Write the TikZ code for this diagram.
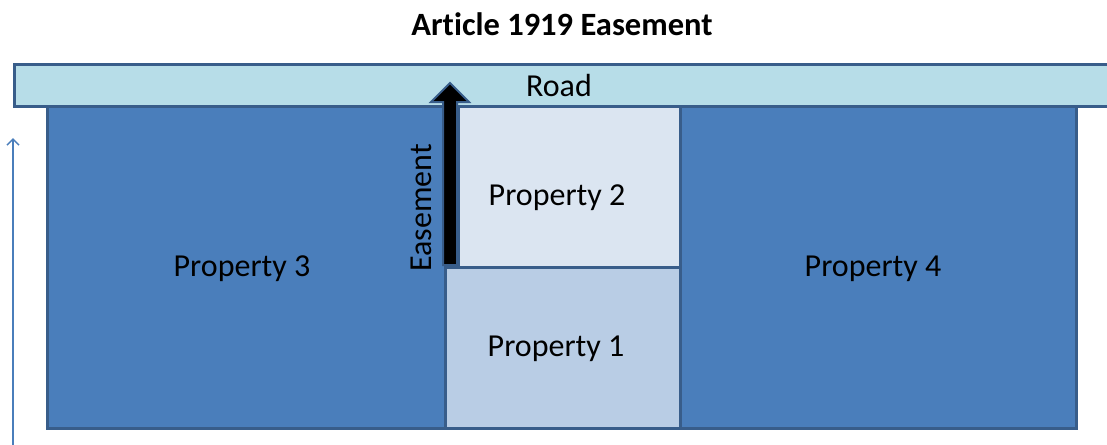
\documentclass[tikz,border=0pt]{standalone}
\usepackage{fontspec}
\setmainfont[Ligatures=CommonOff]{Carlito}
\usetikzlibrary{arrows.meta}
\definecolor{edge}{HTML}{385D8A}
\definecolor{roadfill}{HTML}{B7DDE8}
\definecolor{lotdark}{HTML}{4A7EBB}
\definecolor{lotpale}{HTML}{DBE5F1}
\definecolor{lotmid}{HTML}{B9CDE5}
\begin{document}
\begin{tikzpicture}[x=1pt,y=-1pt,
  lot/.style={draw=edge, line width=3pt, rectangle, inner sep=0pt, outer sep=0pt,
    font=\fontsize{32}{36}\selectfont},
  label/.style={font=\fontsize{32}{36}\selectfont, inner sep=0pt}]
\useasboundingbox (0,0) rectangle (1107,444);
% title
\node[font=\bfseries\fontsize{32.5}{36}\selectfont] (title) at (562,24) {Article 1919 Easement};
% road along the top
\node[lot, fill=roadfill, minimum width=1110, minimum height=42, anchor=north west] (road) at (14,64) {};
\node[label] (roadtxt) at (559,86) {Road};
% lots
\node[lot, fill=lotdark, minimum width=398, minimum height=322, anchor=north west] (p3) at (47,106) {};
\node[label] (p3txt) at (242,269) {Property 3};
\node[lot, fill=lotdark, minimum width=396, minimum height=322, anchor=north west] (p4) at (680,106) {};
\node[label] (p4txt) at (873,269) {Property 4};
\node[lot, fill=lotmid, minimum width=235, minimum height=161, anchor=north west] (p1) at (445,267) {};
\node[label] (p1txt) at (556,349) {Property 1};
\node[lot, fill=lotpale, minimum width=222, minimum height=161, anchor=north west] (p2) at (458,106) {};
\node[label] (p2txt) at (557,198) {Property 2};
% easement block arrow up to the road
\coordinate (ea) at (443,265);
\filldraw[fill=black, draw=edge, line width=2pt, line join=miter]
  (ea) -- (443,102) -- (431,102) -- (450,83) -- (469,102) -- (457,102) -- (457,265) -- cycle;
\node[label, rotate=90] (etxt) at (421,208) {Easement};
% axis arrow on the left
\coordinate (axbot) at (13,446);
\coordinate (axtop) at (13,138);
\draw[lotdark, line width=1.5pt, -{Straight Barb[length=6pt,width=12pt]}] (axbot) -- (axtop);
\end{tikzpicture}
\end{document}
